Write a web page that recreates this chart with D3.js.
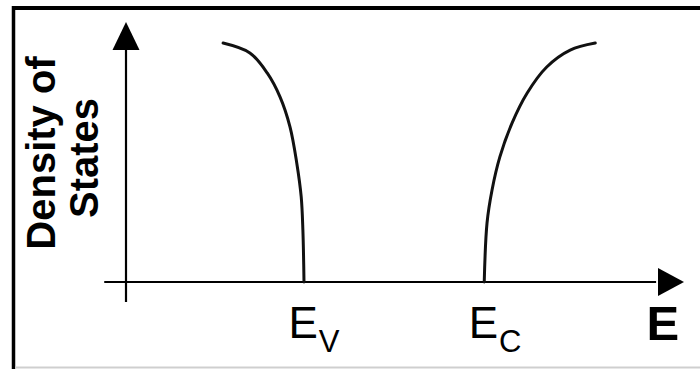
<!DOCTYPE html>
<html>
<head>
<meta charset="utf-8">
<script src="https://cdn.jsdelivr.net/npm/d3@7"></script>
<style>
  html, body { margin: 0; padding: 0; background: #fff; }
  svg { display: block; }
</style>
</head>
<body>
<svg id="chart" width="700" height="369"></svg>
<script>
// ---- data (arbitrary units) ----
const energyValence = [1.74, 2.22, 2.53, 2.76, 2.94, 3.06, 3.14, 3.17, 3.19];
const dosValence    = [9.19, 8.81, 8.04, 7.12, 5.96, 4.58, 3.27, 2.00, 0.00];
const energyConduction = [6.42, 6.47, 6.56, 6.70, 6.92, 7.19, 7.54, 7.96, 8.41];
const dosConduction    = [0.00, 2.27, 3.54, 4.81, 6.12, 7.27, 8.27, 8.92, 9.19];
const bandEdges = [3.19, 6.42];            // Ev, Ec
const bandEdgeMain = ["E", "E"];
const bandEdgeSub = ["V", "C"];
const xAxisLabel = "E";
const yAxisLabelLines = ["Density of", "States"];

// ---- layout ----
const svg = d3.select("#chart");
const x = d3.scaleLinear().domain([0, 10]).range([126, 684]);
const y = d3.scaleLinear().domain([0, 10]).range([282, 22]);

// frame
svg.append("line").attr("x1", 12).attr("x2", 700).attr("y1", 8).attr("y2", 8)
  .attr("stroke", "#000").attr("stroke-width", 4);
svg.append("line").attr("x1", 13.5).attr("x2", 13.5).attr("y1", 6).attr("y2", 369)
  .attr("stroke", "#000").attr("stroke-width", 3.5);
svg.append("line").attr("x1", 15).attr("x2", 700).attr("y1", 367.5).attr("y2", 367.5)
  .attr("stroke", "#cfcfcf").attr("stroke-width", 2);

// axes
const axisColor = "#000";
svg.append("line")
  .attr("x1", x(-0.39)).attr("x2", x(9.5))
  .attr("y1", y(0)).attr("y2", y(0))
  .attr("stroke", axisColor).attr("stroke-width", 2.2);
svg.append("line")
  .attr("x1", x(0)).attr("x2", x(0))
  .attr("y1", y(-0.77)).attr("y2", y(9.0))
  .attr("stroke", axisColor).attr("stroke-width", 2.2);

// arrowheads
const xt = x(10), x0 = y(0);
svg.append("path")
  .attr("d", `M${xt},${x0} L${xt - 26},${x0 - 14} L${xt - 26},${x0 + 14} Z`)
  .attr("fill", "#000");
const yt = y(10), y0 = x(0);
svg.append("path")
  .attr("d", `M${y0},${yt} L${y0 - 13.5},${yt + 28} L${y0 + 13.5},${yt + 28} Z`)
  .attr("fill", "#000");

// curves
const line = d3.line().x(d => x(d[0])).y(d => y(d[1])).curve(d3.curveCatmullRom.alpha(0.5));
const valence = energyValence.map((e, i) => [e, dosValence[i]]);
const conduction = energyConduction.map((e, i) => [e, dosConduction[i]]);
[valence, conduction].forEach(pts => {
  svg.append("path").attr("d", line(pts))
    .attr("fill", "none").attr("stroke", "#111").attr("stroke-width", 3)
    .attr("stroke-linecap", "round");
});

// band edge labels
const font = "'Liberation Sans', Arial, sans-serif";
bandEdges.forEach((e, i) => {
  const t = svg.append("text")
    .attr("x", x(e) - 15.5).attr("y", 338)
    .attr("font-family", font).attr("font-size", 44).attr("fill", "#000");
  t.append("tspan").text(bandEdgeMain[i]);
  t.append("tspan").attr("font-size", 31).attr("dx", 1).attr("dy", 14).text(bandEdgeSub[i]);
});

// x axis label
svg.append("text")
  .attr("x", 646.5).attr("y", 340)
  .attr("font-family", font).attr("font-weight", "bold").attr("font-size", 49)
  .attr("fill", "#000").text(xAxisLabel);

// y axis label
const yl = svg.append("text")
  .attr("transform", "translate(55,153) rotate(-90)")
  .attr("text-anchor", "middle")
  .attr("font-family", font).attr("font-weight", "bold").attr("font-size", 40)
  .attr("fill", "#000");
yAxisLabelLines.forEach((s, i) => {
  yl.append("tspan").attr("x", i === 0 ? 0 : -5).attr("dy", i === 0 ? 0 : 43).text(s);
});
</script>
</body>
</html>
